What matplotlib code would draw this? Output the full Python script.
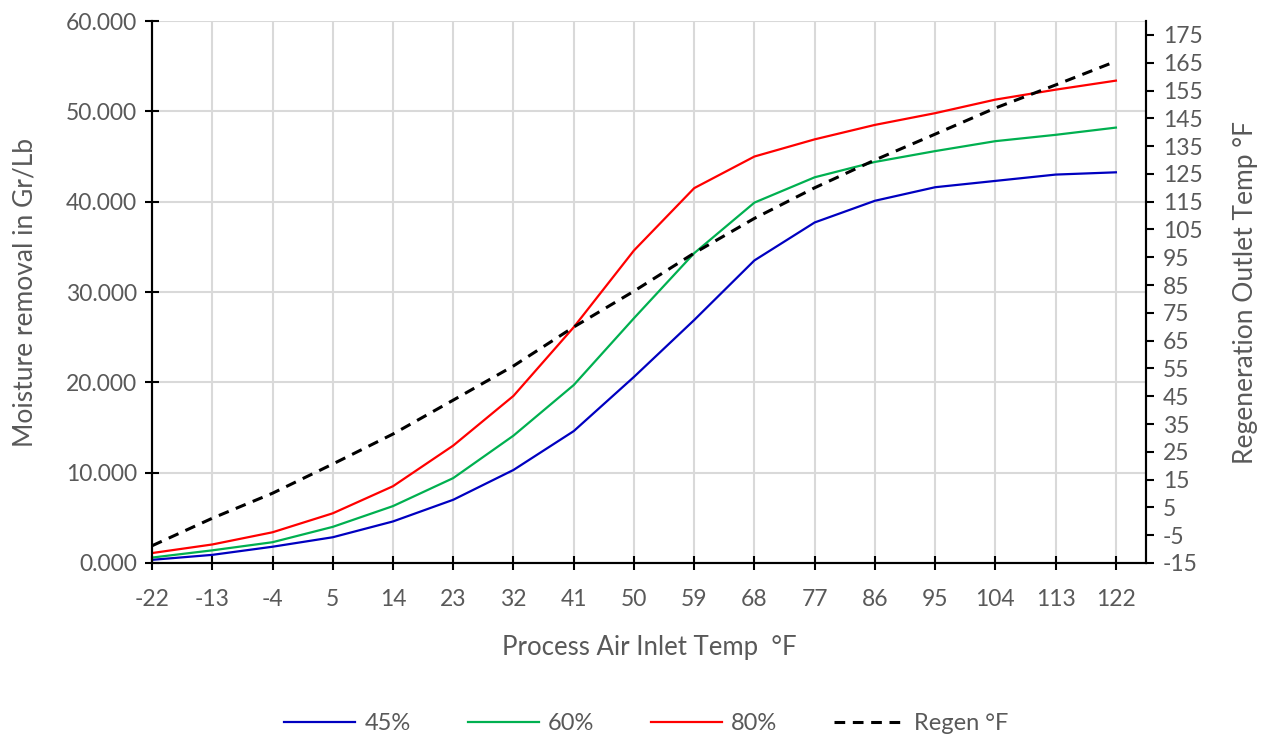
import numpy as np
import matplotlib.pyplot as plt

plt.rcParams['font.family'] = ['Lato', 'DejaVu Sans']
plt.rcParams['axes.unicode_minus'] = False

# data
inlet_temps = [-22, -13, -4, 5, 14, 23, 32, 41, 50, 59, 68, 77, 86, 95, 104, 113, 122]
rh45 = [0.35, 0.9, 1.8, 2.85, 4.6, 7.0, 10.3, 14.6, 20.6, 26.9, 33.5, 37.7, 40.1, 41.6, 42.3, 43.0, 43.25]
rh60 = [0.6, 1.4, 2.3, 4.0, 6.3, 9.4, 14.1, 19.7, 27.1, 34.3, 39.9, 42.7, 44.4, 45.6, 46.7, 47.4, 48.2]
rh80 = [1.1, 2.05, 3.4, 5.5, 8.5, 13.0, 18.5, 26.1, 34.6, 41.5, 45.0, 46.9, 48.5, 49.8, 51.3, 52.4, 53.4]
regen = [-8.8, 1.1, 10.1, 20.6, 31.4, 43.6, 55.9, 69.9, 82.8, 96.5, 109, 120, 130, 139.3, 148.7, 157, 165.5]

txt = '#595959'
grid_c = '#d9d9d9'

fig = plt.figure(figsize=(12.68, 7.40), dpi=100)
ax = fig.add_axes([0.1199, 0.2392, 0.9038 - 0.1199, 0.9716 - 0.2392])
ax2 = ax.twinx()

x = np.arange(len(inlet_temps))
l1, = ax.plot(x, rh45, color='#0000c0', lw=1.6, label='45%')
l2, = ax.plot(x, rh60, color='#00b050', lw=1.6, label='60%')
l3, = ax.plot(x, rh80, color='#ff0000', lw=1.6, label='80%')
l4, = ax2.plot(x, regen, color='black', lw=2.2, ls=(0, (3.5, 2.5)), label='Regen °F')

ax.set_xlim(0, 16.5)
ax.set_ylim(0, 60)
ax.set_yticks(np.arange(0, 61, 10))
ax.set_yticklabels([f'{v:.3f}' for v in np.arange(0, 61, 10)])
ax.set_xticks(x)
ax.set_xticklabels([str(t) for t in inlet_temps])

ax2.set_ylim(-15, 180)
ax2.set_yticks(np.arange(-15, 176, 10))

ax.grid(True, color=grid_c, lw=1.5)
ax.set_axisbelow(True)

for a in (ax, ax2):
    a.spines['top'].set_visible(False)
    for s in ('left', 'right', 'bottom'):
        a.spines[s].set_color('black')
        a.spines[s].set_linewidth(1.5)

ax.tick_params(axis='y', direction='inout', length=10, width=1.5, labelsize=16.5, labelcolor=txt, pad=6)
ax.tick_params(axis='x', direction='inout', length=10, width=1.5, labelsize=16.5, labelcolor=txt, pad=14)
ax2.tick_params(axis='y', direction='out', length=6, width=1.5, labelsize=16.5, labelcolor=txt, pad=6)

ax.set_xlabel('Process Air Inlet Temp  °F', fontsize=18.5, color=txt, labelpad=18)
ax.set_ylabel('Moisture removal in Gr/Lb', fontsize=19, color=txt, labelpad=20)
ax2.set_ylabel('Regeneration Outlet Temp °F', fontsize=19, color=txt, labelpad=22)

fig.legend(handles=[l1, l2, l3, l4], loc='center', bbox_to_anchor=(0.51, 0.022), ncol=4,
           frameon=False, fontsize=17, labelcolor=txt, handlelength=3.0, handletextpad=0.4,
           columnspacing=2.4)

fig.savefig('out.png', dpi=100)
